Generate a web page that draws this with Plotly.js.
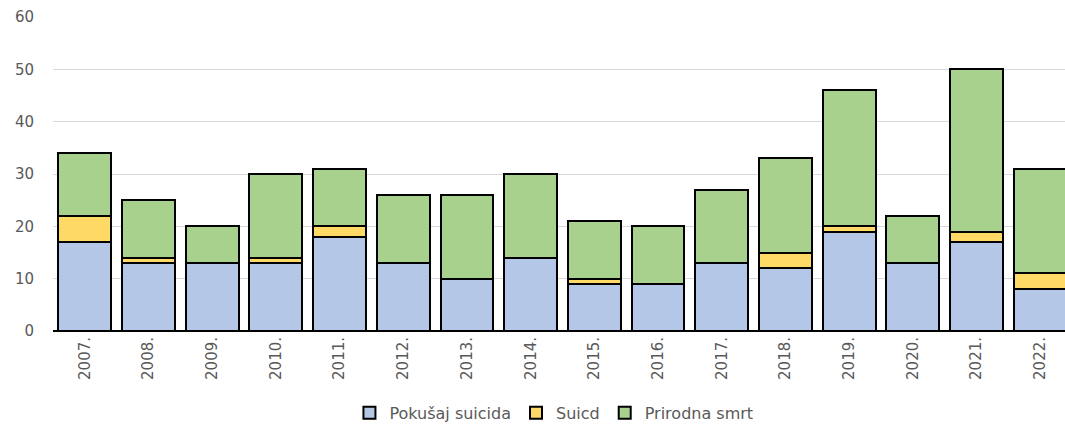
<!DOCTYPE html>
<html><head><meta charset="utf-8">
<script src="https://cdn.plot.ly/plotly-3.0.1.min.js"></script>
<style>html,body{margin:0;padding:0;background:#fff}#chart{width:1065px;height:427px}</style>
</head><body><div id="chart"></div>
<script>
const years = ["2007.","2008.","2009.","2010.","2011.","2012.","2013.","2014.","2015.","2016.","2017.","2018.","2019.","2020.","2021.","2022."];
const pokusajSuicida = [17,13,13,13,18,13,10,14,9,9,13,12,19,13,17,8];
const suicid = [5,1,0,1,2,0,0,0,1,0,0,3,1,0,2,3];
const prirodnaSmrt = [12,11,7,16,11,13,16,16,11,11,14,18,26,9,31,20];
const seriesNames = ["Pokušaj suicida","Suicd","Prirodna smrt"];
const colors = ["#B4C7E7","#FFD966","#A9D18E"];

const allSeries = [pokusajSuicida, suicid, prirodnaSmrt];
const traces = allSeries.map((vals, i) => ({
  type: "bar",
  name: seriesNames[i],
  x: years,
  y: vals,
  width: 0.83,
  marker: {color: colors[i], line: {color: "#000", width: 2}},
  hoverinfo: "x+y+name"
}));

const layout = {
  width: 1065, height: 427,
  barmode: "stack",
  margin: {l: 53, r: 0, t: 17, b: 96},
  paper_bgcolor: "#fff", plot_bgcolor: "#fff",
  font: {family: "DejaVu Sans, sans-serif", color: "#595959"},
  xaxis: {
    type: "category",
    range: [-0.5, 15.39],
    tickangle: -90,
    tickfont: {size: 15, color: "#595959"},
    showline: false, showgrid: false, ticks: "",
    ticklabelstandoff: 2, automargin: false
  },
  yaxis: {
    range: [0, 60],
    dtick: 10,
    tickfont: {size: 15, color: "#595959"},
    showgrid: true, gridcolor: "#D9D9D9", gridwidth: 1,
    zeroline: true, zerolinecolor: "#000", zerolinewidth: 2.5,
    showline: false, ticks: "", ticklabelstandoff: 18, automargin: false
  },
  legend: {
    orientation: "h", x: 0.495, xanchor: "center",
    yref: "container", y: 0.033, yanchor: "middle",
    font: {size: 16, color: "#595959"},
    traceorder: "normal", itemwidth: 30
  },
  showlegend: true
};
Plotly.newPlot("chart", traces, layout, {displayModeBar: false, staticPlot: true});
</script></body></html>
